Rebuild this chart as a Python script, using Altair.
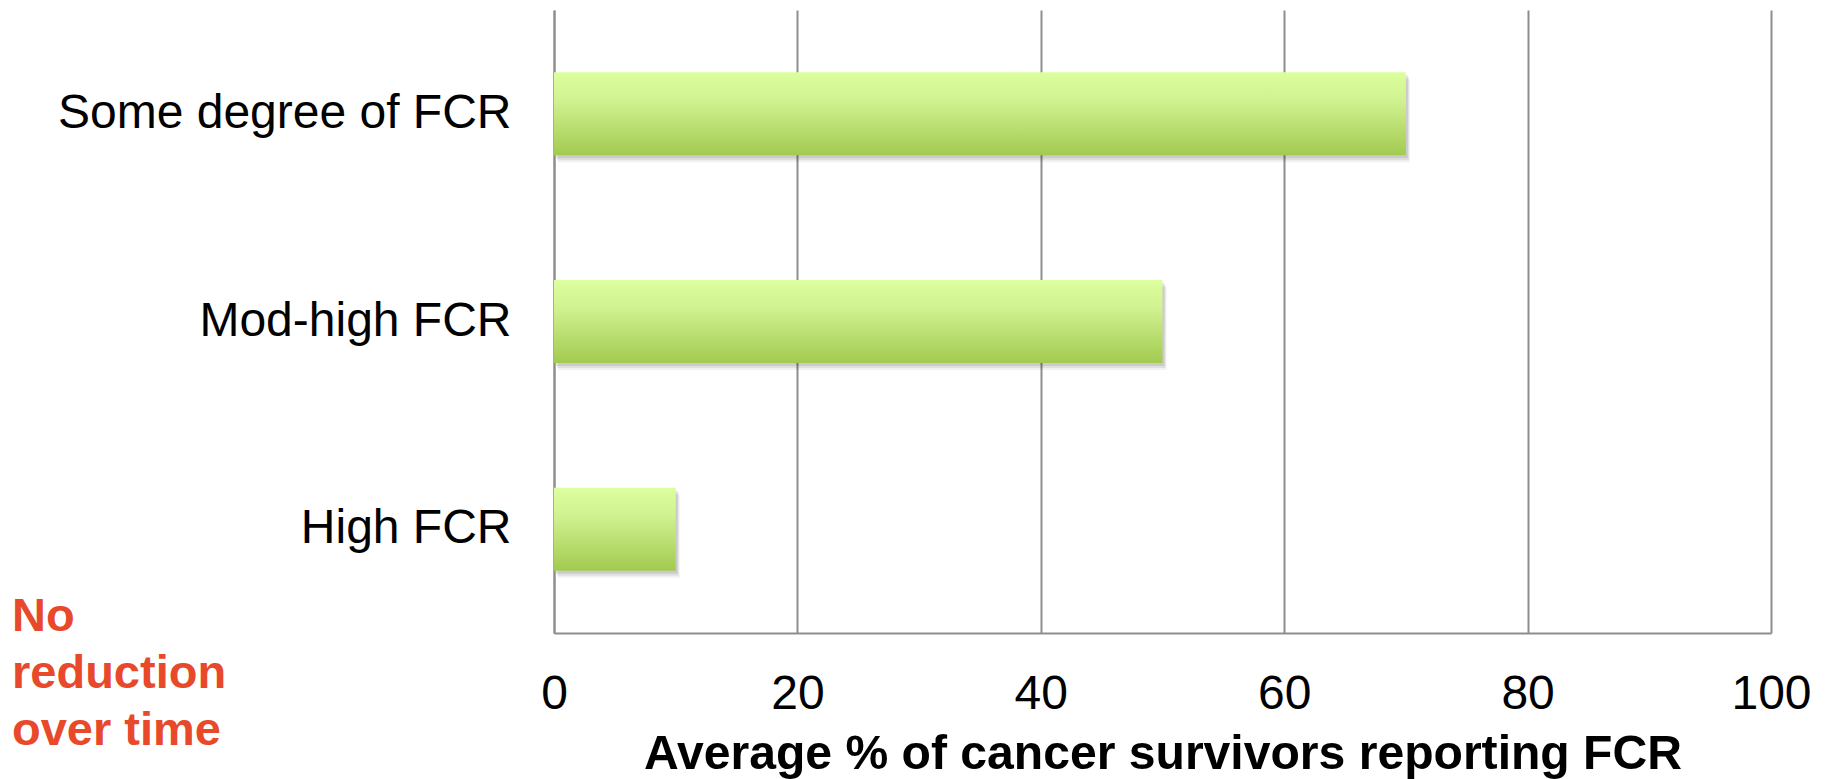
import altair as alt
import pandas as pd

# Share of cancer survivors reporting fear of cancer recurrence (FCR)
categories = ["Some degree of FCR", "Mod-high FCR", "High FCR"]
percentages = [70, 50, 10]
x_ticks = [0, 20, 40, 60, 80, 100]
note_lines = ["No", "reduction", "over time"]

df = pd.DataFrame({"level": categories, "pct": percentages})

FONT = "Liberation Sans"
GRID = "#8e8e8e"

x_enc = alt.X(
    "pct:Q",
    scale=alt.Scale(domain=[0, 100], nice=False, zero=True),
    axis=alt.Axis(
        values=x_ticks,
        grid=True,
        gridColor=GRID,
        gridWidth=2,
        domainColor=GRID,
        domainWidth=2,
        ticks=False,
        labelFlush=False,
        labelFont=FONT,
        labelFontSize=48,
        labelColor="#000000",
        labelPadding=37,
        title="Average % of cancer survivors reporting FCR",
        titleFont=FONT,
        titleFontSize=48.1,
        titleFontWeight="bold",
        titleColor="#000000",
        titlePadding=12,
    ),
)
y_enc = alt.Y(
    "level:N",
    sort=categories,
    scale=alt.Scale(paddingInner=0.6, paddingOuter=0.3),
    axis=alt.Axis(
        title=None,
        ticks=False,
        grid=False,
        domainColor=GRID,
        domainWidth=2,
        labelFont=FONT,
        labelFontSize=48,
        labelColor="#000000",
        labelPadding=43,
        labelLimit=0,
    ),
)

base = alt.Chart(df)

# soft drop shadow under each bar
shadows = [
    base.mark_bar(color="#000000", opacity=op, xOffset=dx, yOffset=dy).encode(x=x_enc, y=y_enc)
    for op, dx, dy in [(0.05, 4, 7), (0.07, 3, 5), (0.09, 2, 3)]
]

bars = base.mark_bar(
    color=alt.Gradient(
        gradient="linear",
        x1=0, y1=0, x2=0, y2=1,
        stops=[
            alt.GradientStop(offset=0, color="#dcff9f"),
            alt.GradientStop(offset=0.35, color="#d0f18f"),
            alt.GradientStop(offset=1, color="#a2ca50"),
        ],
    )
).encode(x=x_enc, y=y_enc)

note = alt.Chart(pd.DataFrame({"t": [note_lines]})).mark_text(
    align="left",
    baseline="alphabetic",
    font=FONT,
    fontSize=47,
    fontWeight="bold",
    color="#e8492b",
    lineHeight=57,
).encode(text="t", x=alt.value(-542), y=alt.value(621))

chart = (
    alt.layer(*shadows, bars, note)
    .properties(
        width=1217,
        height=623,
        autosize=alt.AutoSizeParams(type="none"),
        padding={"left": 554, "top": 10, "right": 58, "bottom": 146},
        background="#ffffff",
    )
    .configure_view(strokeWidth=0)
)

chart.save("out.html", embed_options={"renderer": "svg", "actions": False})
